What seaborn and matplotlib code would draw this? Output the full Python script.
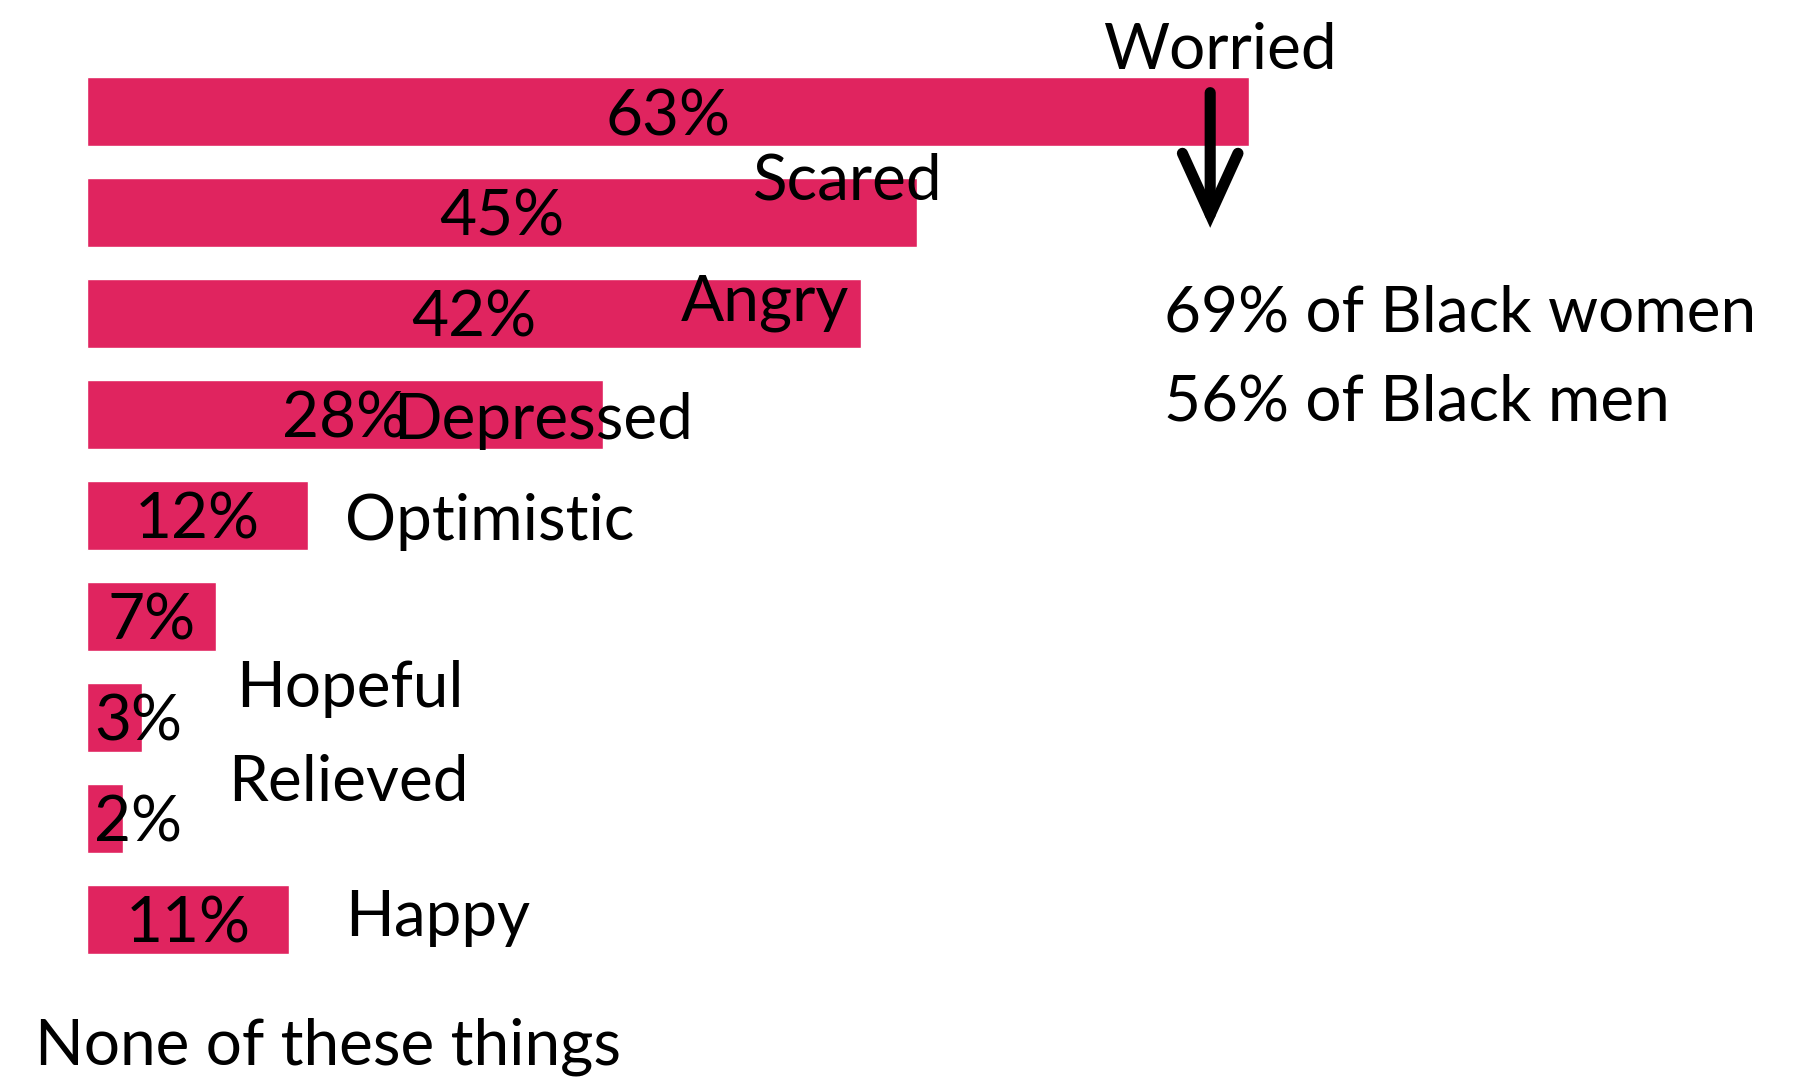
import matplotlib
matplotlib.use('Agg')
import matplotlib.pyplot as plt
import seaborn as sns
import pandas as pd

# ----------------------
# Data
feelings = ['Worried', 'Scared', 'Angry', 'Depressed', 'Optimistic',
            'Hopeful', 'Relieved', 'Happy', 'None of these things']
shares = [63, 45, 42, 28, 12, 7, 3, 2, 11]
notes = ['69% of Black women', '56% of Black men']

df = pd.DataFrame({'feeling': feelings, 'share': shares})

# ----------------------
sns.set_theme(style='white')
plt.rcParams['font.family'] = ['Lato', 'DejaVu Sans']
plt.rcParams['text.color'] = 'black'

fig = plt.figure(figsize=(18.08, 10.79), dpi=100)
ax = fig.add_axes([0, 0, 1, 1])

sns.barplot(data=df, x='share', y='feeling', orient='h', color='#E0245F',
            saturation=1, width=0.685, ax=ax)

ax.set_xlim(-4.69, 93.3)
ax.set_ylim(9.585, -1.108)
ax.axis('off')

fs = 46

# percent labels in the bars
for i, v in enumerate(shares):
    ax.text(max(v / 2, 2.8), i + 0.23, f'{v}%', ha='center', va='baseline',
            fontsize=fs, color='black')

# category labels (placed loosely, as in the original)
label_pos = [(55.1, -0.42), (36.1, 0.87), (32.2, 2.07), (16.6, 3.24),
             (14.0, 4.24), (8.1, 5.90), (7.7, 6.83), (14.0, 8.17),
             (-2.8, 9.44)]
for name, (x, y) in zip(feelings, label_pos):
    ax.text(x, y, name, ha='left', va='baseline', fontsize=fs, color='black')

# arrow + callout
ax.annotate('', xy=(60.9, 1.15), xytext=(60.9, -0.19),
            arrowprops=dict(arrowstyle='->,head_length=1.1,head_width=0.5',
                            mutation_scale=40, lw=8, color='black',
                            capstyle='round', joinstyle='miter',
                            shrinkA=0, shrinkB=0))
ax.text(58.4, 2.18, notes[0], ha='left', va='baseline', fontsize=fs, color='black')
ax.text(58.4, 3.06, notes[1], ha='left', va='baseline', fontsize=fs, color='black')

fig.savefig('out.png', dpi=100, facecolor='white')
